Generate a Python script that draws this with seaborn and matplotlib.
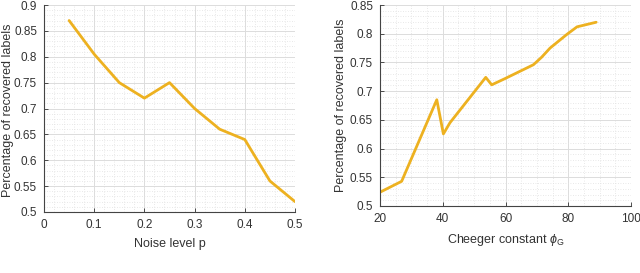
import numpy as np
import pandas as pd
import matplotlib
matplotlib.use("Agg")
import matplotlib.pyplot as plt
from matplotlib.ticker import MultipleLocator
import seaborn as sns

noise_p = [0.05, 0.10, 0.15, 0.20, 0.25, 0.30, 0.35, 0.40, 0.45, 0.50]
recovered_noise = [0.87, 0.805, 0.75, 0.72, 0.75, 0.70, 0.66, 0.64, 0.56, 0.52]

cheeger = [20, 26.9, 38.1, 40.2, 42.3, 53.7, 55.6, 59.9, 68.9, 71.5, 74.2, 79.6, 82.8, 88.9]
recovered_cheeger = [0.524, 0.543, 0.685, 0.6255, 0.645, 0.724, 0.711, 0.722, 0.746,
                     0.759, 0.775, 0.799, 0.812, 0.82]

sns.set_theme(style="white")
plt.rcParams['font.family'] = ['Liberation Sans', 'DejaVu Sans']
plt.rcParams['mathtext.fontset'] = 'custom'
plt.rcParams['mathtext.it'] = 'Liberation Sans:italic'
plt.rcParams['mathtext.rm'] = 'Liberation Sans'

color = "#EDB120"
txt = "#333333"
fig = plt.figure(figsize=(6.4, 2.73), dpi=100)
ax1 = fig.add_axes([44/640, 1-212/273, 251/640, 207/273])
ax2 = fig.add_axes([380/640, 1-206/273, 251/640, 201/273])

df1 = pd.DataFrame({"p": noise_p, "r": recovered_noise})
df2 = pd.DataFrame({"c": cheeger, "r": recovered_cheeger})
sns.lineplot(data=df1, x="p", y="r", ax=ax1, color=color, linewidth=2.0)
sns.lineplot(data=df2, x="c", y="r", ax=ax2, color=color, linewidth=2.0)

def style(ax, xlim, ylim, xmaj, xmin, ymaj, ymin, xlabel):
    ax.set_xlim(*xlim)
    ax.set_ylim(*ylim)
    ax.xaxis.set_major_locator(MultipleLocator(xmaj))
    ax.xaxis.set_minor_locator(MultipleLocator(xmin))
    ax.yaxis.set_major_locator(MultipleLocator(ymaj))
    ax.yaxis.set_minor_locator(MultipleLocator(ymin))
    ax.grid(True, which="major", color="#dcdcdc", linewidth=0.7, linestyle="-")
    ax.grid(True, which="minor", color="#e0e0e0", linewidth=0.6, linestyle=(0, (1, 2)))
    for s in ["top", "right"]:
        ax.spines[s].set_visible(False)
    for s in ["left", "bottom"]:
        ax.spines[s].set_color("#444444")
        ax.spines[s].set_linewidth(0.8)
    ax.tick_params(axis="both", which="major", labelsize=8.5, colors=txt,
                   length=3, width=0.6, direction="in", pad=5, bottom=True, left=True)
    ax.tick_params(axis="both", which="minor", length=0)
    ax.set_xlabel(xlabel, fontsize=9, color=txt, labelpad=5)
    ax.set_ylabel("Percentage of recovered labels", fontsize=9, color=txt)

style(ax1, (0, 0.5), (0.5, 0.9), 0.1, 0.02, 0.05, 0.01, "Noise level p")
ax1.set_xticks([0, 0.1, 0.2, 0.3, 0.4, 0.5])
ax1.set_xticklabels(["0", "0.1", "0.2", "0.3", "0.4", "0.5"])
ax1.set_yticks([0.5, 0.55, 0.6, 0.65, 0.7, 0.75, 0.8, 0.85, 0.9])
ax1.set_yticklabels(["0.5", "0.55", "0.6", "0.65", "0.7", "0.75", "0.8", "0.85", "0.9"])
ax1.yaxis.set_label_coords(-0.118, 0.493)

style(ax2, (20, 100), (0.5, 0.85), 20, 5, 0.05, 0.01, r"Cheeger constant $\phi_{\mathrm{G}}$")
ax2.set_yticks([0.5, 0.55, 0.6, 0.65, 0.7, 0.75, 0.8, 0.85])
ax2.set_yticklabels(["0.5", "0.55", "0.6", "0.65", "0.7", "0.75", "0.8", "0.85"])
ax2.yaxis.set_label_coords(-0.131, 0.5)

fig.savefig("out.png", dpi=100)
